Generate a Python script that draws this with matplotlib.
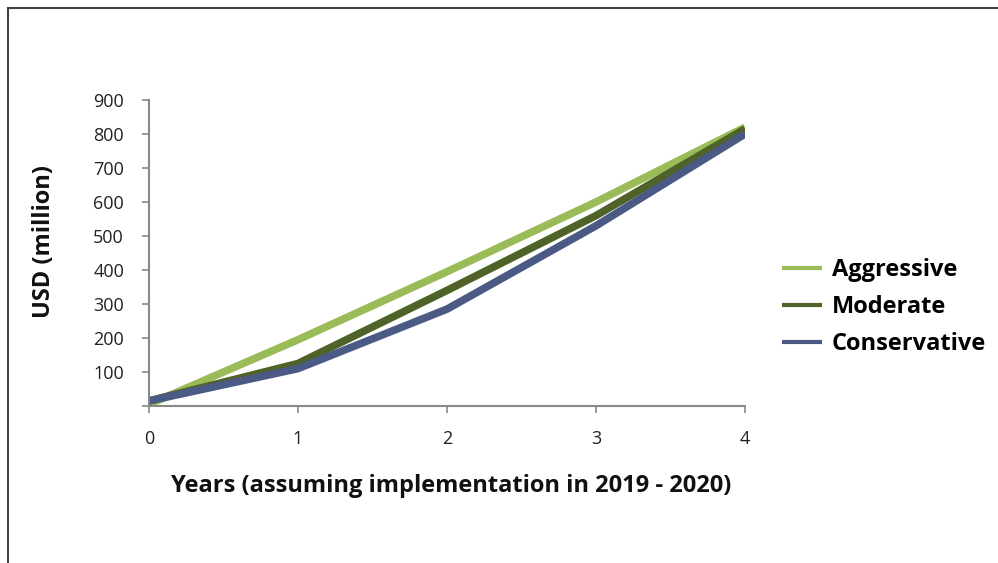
import matplotlib.pyplot as plt
from matplotlib.lines import Line2D

# Projected savings by scenario, USD million
years = [0, 1, 2, 3, 4]
aggressive = [5, 195, 395, 600, 820]
moderate = [15, 125, 340, 560, 815]
conservative = [15, 110, 285, 530, 800]

series = [
    ('Aggressive', aggressive, '#9BBB59'),
    ('Moderate', moderate, '#4F6228'),
    ('Conservative', conservative, '#4A5A84'),
]

plt.rcParams['font.family'] = ['Open Sans', 'DejaVu Sans']

fig = plt.figure(figsize=(9.98, 5.63), dpi=100)
ax = fig.add_axes([149 / 998, 1 - 406 / 563, (745 - 149) / 998, (406 - 100) / 563])

for name, vals, col in series:
    ax.plot(years, vals, color=col, lw=5.5, label=name, solid_capstyle='butt')

ax.set_xlim(0, 4)
ax.set_ylim(0, 900)
ax.set_xticks(years)
ax.set_yticks(range(0, 1000, 100))
ax.set_yticklabels([''] + [str(v) for v in range(100, 1000, 100)])
ax.tick_params(axis='both', labelsize=13, colors='#888888', labelcolor='#222222',
               length=5, width=1.2)
ax.tick_params(axis='x', pad=12)
ax.tick_params(axis='y', pad=13)

for side in ['top', 'right']:
    ax.spines[side].set_visible(False)
for side in ['left', 'bottom']:
    ax.spines[side].set_color('#888888')
    ax.spines[side].set_linewidth(1.5)

# axis titles
fig.text(44 / 998, 1 - 241 / 563, 'USD (million)', rotation=90, ha='center', va='center',
         fontsize=17, fontweight='bold', color='#111111')
fig.text(451 / 998, 1 - 486 / 563, 'Years (assuming implementation in 2019 - 2020)',
         ha='center', va='center', fontsize=17, fontweight='bold', color='#111111')

leg = ax.legend(loc='center left', bbox_to_anchor=(1.062, 0.324), frameon=False,
                borderaxespad=0, borderpad=0, handlelength=1.7, handletextpad=0.42,
                labelspacing=0.55, prop={'weight': 'bold', 'size': 17})
for line in leg.get_lines():
    line.set_linewidth(3)

# outer frame around the figure
fig.add_artist(Line2D([8 / 998, 8 / 998], [0, 1 - 8 / 563], color='#444444', lw=1.5))
fig.add_artist(Line2D([8 / 998, 1], [1 - 8 / 563, 1 - 8 / 563], color='#444444', lw=1.5))

fig.savefig('out.png', dpi=100)
